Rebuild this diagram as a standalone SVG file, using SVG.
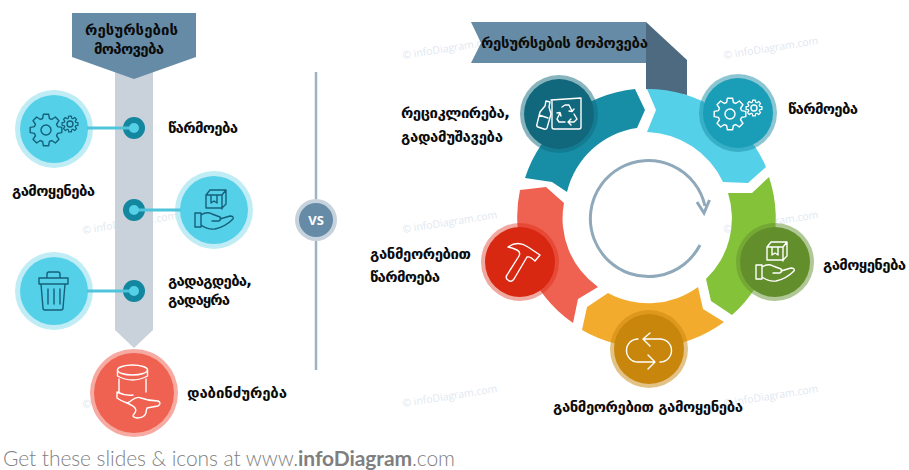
<svg xmlns="http://www.w3.org/2000/svg" width="909" height="470" viewBox="0 0 909 470">
<style>
.t{font-family:"DejaVu Sans",sans-serif;font-size:15px;font-weight:700;fill:#0b0b0b}
.wm{font-family:"Open Sans",sans-serif;font-size:10.5px;fill:#dfe7ef}
.ic{fill:none;stroke-width:1.4;stroke-linejoin:round;stroke-linecap:round}
.dk{stroke:#15607a}
.wh{stroke:#fff}
.foot{font-family:"Lato","Open Sans",sans-serif;font-size:21px;font-weight:300;fill:#7f7f7f}
.link{stroke:#4fc4db;stroke-width:3;fill:none}
.arc{stroke:#8fa9bb;stroke-width:3;fill:none}
</style>
<defs>
<g id="gears">
<polygon points="-3.4,-11.5 -2.6,-15.8 2.6,-15.8 3.4,-11.5 5.73,-10.53 9.33,-13.01 13.01,-9.33 10.53,-5.73 11.5,-3.4 15.8,-2.6 15.8,2.6 11.5,3.4 10.53,5.73 13.01,9.33 9.33,13.01 5.73,10.53 3.4,11.5 2.6,15.8 -2.6,15.8 -3.4,11.5 -5.73,10.53 -9.33,13.01 -13.01,9.33 -10.53,5.73 -11.5,3.4 -15.8,2.6 -15.8,-2.6 -11.5,-3.4 -10.53,-5.73 -13.01,-9.33 -9.33,-13.01 -5.73,-10.53" transform="translate(-8 1)"/>
<circle cx="-8" cy="1" r="5"/>
<polygon points="-3.4,-11.5 -2.6,-15.8 2.6,-15.8 3.4,-11.5 5.73,-10.53 9.33,-13.01 13.01,-9.33 10.53,-5.73 11.5,-3.4 15.8,-2.6 15.8,2.6 11.5,3.4 10.53,5.73 13.01,9.33 9.33,13.01 5.73,10.53 3.4,11.5 2.6,15.8 -2.6,15.8 -3.4,11.5 -5.73,10.53 -9.33,13.01 -13.01,9.33 -10.53,5.73 -11.5,3.4 -15.8,2.6 -15.8,-2.6 -11.5,-3.4 -10.53,-5.73 -13.01,-9.33 -9.33,-13.01 -5.73,-10.53" transform="translate(16 -5) scale(.5)" stroke-width="2.6"/>
<circle cx="16" cy="-5" r="3"/>
</g>
<g id="boxhand">
<path d="M-8 -15l4 -5h16v14l-4 4h-16zM-8 -15h16v14M8 -15l4 -5M-3 -15v8l3 -2 3 2v-8"/>
<path d="M-19 3h6v14h-6zM-13 5q6 -4 11 -1l8 3q2 2 -1 4l-7 0M6 9l10 -3q4 0 3 3q-8 8 -18 10q-7 1 -14 -4"/>
</g>
</defs>

<g id="watermarks" class="wm">
<text transform="translate(83 234) rotate(-9)">© infoDiagram.com</text>
<text transform="translate(83 408) rotate(-9)">© infoDiagram.com</text>
<text transform="translate(403 59) rotate(-9)">© infoDiagram.com</text>
<text transform="translate(403 233) rotate(-9)">© infoDiagram.com</text>
<text transform="translate(403 407) rotate(-9)">© infoDiagram.com</text>
<text transform="translate(724 59) rotate(-9)">© infoDiagram.com</text>
<text transform="translate(724 233) rotate(-9)">© infoDiagram.com</text>
<text transform="translate(724 407) rotate(-9)">© infoDiagram.com</text>
</g>

<g id="left-bar">
<path d="M115 70H153V330L134 348L115 330Z" fill="#c9d2db"/>
<path d="M72 13H196V57L134 79L72 57Z" fill="#668ba6"/>
<text class="t" x="85" y="35" textLength="93" lengthAdjust="spacing">რესურსების</text>
<text class="t" x="94" y="54" textLength="70" lengthAdjust="spacing">მოპოვება</text>
</g>

<g id="node-left-1">
<circle cx="54" cy="129" r="39" fill="#c0edf5"/><circle cx="54" cy="129" r="34" fill="#55d0e9"/>
<use href="#gears" x="54" y="129" class="ic dk"/>
<circle cx="134" cy="128" r="11" fill="#12879f"/>
<text class="t" x="168" y="133" textLength="70" lengthAdjust="spacing">წარმოება</text>
<text class="t" x="12" y="196" textLength="83" lengthAdjust="spacing">გამოყენება</text>
</g>
<g id="node-left-2">
<circle cx="214" cy="210" r="39" fill="#c0edf5"/><circle cx="214" cy="210" r="34" fill="#55d0e9"/>
<use href="#boxhand" x="214" y="210" class="ic dk"/>
<circle cx="134" cy="210" r="11" fill="#12879f"/>
</g>
<g id="node-left-3">
<circle cx="54" cy="291" r="39" fill="#c0edf5"/><circle cx="54" cy="291" r="34" fill="#55d0e9"/>
<g class="ic dk" transform="translate(54 291)">
<path d="M-15 -13h29v6h-29zM-7 -13v-4q0 -2 2 -2h9q2 0 2 2v4M-13 -7l2 24q0 2 2 2h16q2 0 2 -2l2 -24M-6 -2v15M0 -2v15M6 -2v15"/>
</g>
<circle cx="134" cy="291" r="11" fill="#12879f"/>
<text class="t" x="168" y="286" textLength="84" lengthAdjust="spacing">გადაგდება,</text>
<text class="t" x="168" y="305" textLength="62" lengthAdjust="spacing">გადაყრა</text>
</g>
<g id="node-left-4">
<circle cx="134" cy="393" r="44" fill="#f6aaa1"/><circle cx="134" cy="393" r="40" fill="#ef6150"/>
<g class="ic wh" transform="translate(134 393)">
<ellipse cx="-1.500" cy="-23" rx="15" ry="5"/>
<path d="M-16.500 -23v6q15 8 30 0v-6M-15 -14v14M12 -14v13M-17 -1v6q4 3 10 5M-17 -1q8 4 16 3"/>
<path d="M-7 10q3 -1 5 -3q5 -4 9 -2q8 3 17 3q4 2 0 5q-6 1 -11 2q-1 3 -1 5q-2 5 -9 5q-6 -1 -3 -4q3 -3 1 -6q-1 -2 -8 -5z"/>
</g>
<text class="t" x="187" y="398" textLength="100" lengthAdjust="spacing">დაბინძურება</text>
</g>

<g id="node-vs">
<circle cx="316" cy="220" r="21" fill="#c6d2dc"/><circle cx="316" cy="220" r="17" fill="#668ba6"/>
<text x="316" y="225" text-anchor="middle" font-family="'Open Sans',sans-serif" font-size="13" font-weight="700" fill="#fff">VS</text>
</g>

<g id="ribbon">
<path d="M646 22L687 60V95L646 89Z" fill="#4d6a80"/>
<path d="M471 22H646V63H471L481 43Z" fill="#668ba6"/>
<text class="t" x="481" y="48" textLength="167" lengthAdjust="spacing">რესურსების მოპოვება</text>
</g>

<g id="node-recycle">
<path d="M525 178L552 182L567 192A84 84 0 0 1 637 128L645 110L635 89A129 129 0 0 0 525 178Z" fill="#178ea6"/>
<circle cx="559" cy="114" r="39" fill="#126a7e" fill-opacity=".5"/><circle cx="559" cy="114" r="35" fill="#11677b"/>
<g class="ic wh" transform="translate(559 114)">
<path d="M-8 -14L22 -16V-13M-7 -14V13q0 2 2 2H20q2 0 2 -2V-15"/>
<path d="M-22 10l3 -12 5 -6 1 -5 4 1 -1 5 2 7 -4 14q-1 2 -3 1l-6 -2q-2 -1 -1 -3zM-20 1l9 3"/>
<path d="M3 -7L6 -9H10L13 -3M15 -5L13 -2.500L10 -3M15 0L18 5L15 8H10M12 5L9 8L12 11M6 8H0L-2 5L1 -1M-2 -1L1 -1.500L2 2"/>
</g>
<text class="t" x="401" y="118" textLength="109" lengthAdjust="spacing">რეციკლირება,</text>
<text class="t" x="401" y="142" textLength="102" lengthAdjust="spacing">გადამუშავება</text>
</g>

<g id="node-production">
<path d="M647 89L656 110L647 132A87 87 0 0 1 723 182L748 183L766 167A129 129 0 0 0 647 89Z" fill="#55d0e9"/>
<circle cx="738" cy="113" r="39" fill="#178ea6" fill-opacity=".5"/><circle cx="738" cy="113" r="35" fill="#1a9eb8"/>
<use href="#gears" x="738" y="113" class="ic wh"/>
<text class="t" x="788" y="114" textLength="70" lengthAdjust="spacing">წარმოება</text>
</g>

<g id="node-use">
<path d="M769 177A129 129 0 0 1 732 315L711 301L706 279A84 84 0 0 0 728 193L752 193Z" fill="#84c23a"/>
<circle cx="775" cy="262" r="39" fill="#62902d" fill-opacity=".5"/><circle cx="775" cy="262" r="35" fill="#628f2c"/>
<use href="#boxhand" x="775" y="262" class="ic wh"/>
<text class="t" x="823" y="270" textLength="83" lengthAdjust="spacing">გამოყენება</text>
</g>

<g id="node-reuse">
<path d="M724 322L703 309L698 287A84 84 0 0 1 608 293L587 307L582 330A129 129 0 0 0 724 322Z" fill="#f3ab2e"/>
<circle cx="649" cy="349" r="39" fill="#c8860c" fill-opacity=".5"/><circle cx="649" cy="349" r="35" fill="#c8860c"/>
<g class="ic wh" transform="translate(649 349)">
<path d="M-6 -10H11a11.500 11.500 0 0 1 0 23M-11 -10a11.500 11.500 0 0 0 0 23H6M1 -16L-6 -10L1 -3M-1 6L6 13L-1 20"/>
</g>
<text class="t" x="553" y="412" textLength="190" lengthAdjust="spacing">განმეორებით გამოყენება</text>
</g>

<g id="node-remanufacture">
<path d="M520 190L546 187L564 203A84 84 0 0 0 598 287L578 299L573 323A129 129 0 0 1 520 190Z" fill="#ef6150"/>
<circle cx="520" cy="262" r="39" fill="#d92812" fill-opacity=".4"/><circle cx="520" cy="262" r="35" fill="#d92812"/>
<g class="ic wh" transform="translate(520 262)">
<path d="M-12 -15Q-2 -22 8 -15L20 -7L15 -1Q10 -6 7 -5L-6 17Q-9 21 -12 18Q-15 16 -13 13L-1 -6Q1 -10 -3 -12Q-7 -14 -12 -15Z"/>
</g>
<text class="t" x="370" y="259" textLength="101" lengthAdjust="spacing">განმეორებით</text>
<text class="t" x="370" y="282" textLength="70" lengthAdjust="spacing">წარმოება</text>
</g>

<g id="connectors">
<path id="vs-line" d="M316 72V199M316 241V370" stroke="#9db3c4" stroke-width="2.5" fill="none"/>
<path id="link-1" class="link" d="M87 128H134"/>
<path id="link-2" class="link" d="M134 210H181"/>
<path id="link-3" class="link" d="M87 291H134"/>
<path id="cycle-arrow" class="arc" d="M700 245A58 58 0 1 1 705 206"/>
<path id="cycle-arrow-head" class="arc" d="M697 202L704 213L709.500 200"/>
</g>
<g id="dot-centres" fill="#55d0e9">
<circle cx="134" cy="128" r="5"/><circle cx="134" cy="210" r="5"/><circle cx="134" cy="291" r="5"/>
</g>

<text class="foot" x="3" y="466" textLength="452" lengthAdjust="spacing">Get these slides &amp; icons at www.<tspan font-weight="700">infoDiagram</tspan>.com</text>
</svg>
